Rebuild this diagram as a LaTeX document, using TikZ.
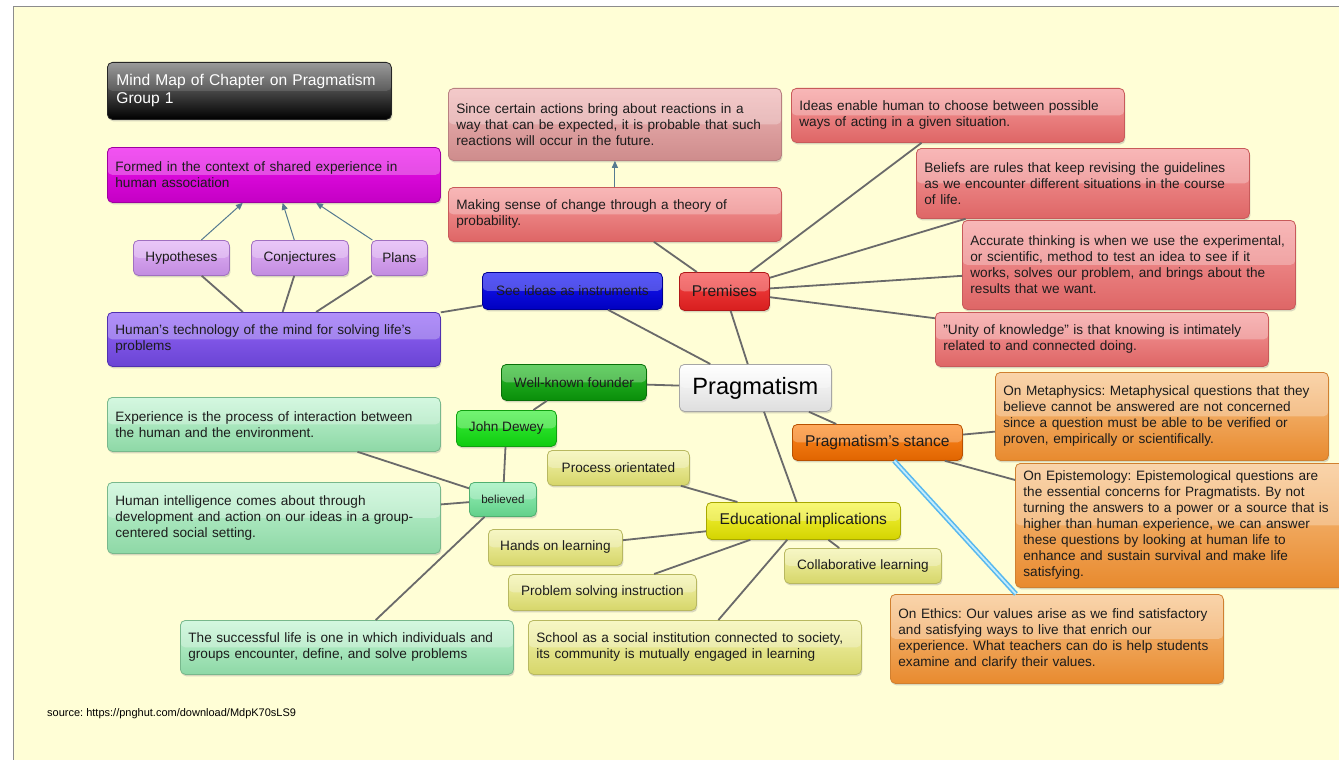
\documentclass[tikz,border=0pt]{standalone}
\usepackage{fontspec}
\setmainfont{Liberation Sans}
\usepackage{tikz}
\usetikzlibrary{positioning, arrows.meta, shadows}
\frenchspacing

% colours of the map
\definecolor{paper}{HTML}{FFFED6}
\definecolor{framegray}{HTML}{8C8C8C}
\definecolor{ink}{HTML}{1C1C1C}
\definecolor{linkgray}{HTML}{6A6A6A}
\definecolor{arrowblue}{HTML}{557A90}
\definecolor{glowout}{HTML}{58B8EE}
\definecolor{glowin}{HTML}{C4ECFC}

\newcommand{\mmtext}{\fontsize{13.6}{16}\selectfont}
\newcommand{\mmbig}{\fontsize{15.6}{18}\selectfont}
\newcommand{\mmhuge}{\fontsize{23.6}{28}\selectfont}
\newcommand{\mmsmall}{\fontsize{11.6}{14}\selectfont}
\newcommand{\mmsource}{\fontsize{11}{13}\selectfont}

\begin{document}
\begin{tikzpicture}[
    x=1pt, y=-1pt,
    box/.style={rounded corners=5pt, line width=0.8pt, text=ink, font=\mmtext,
        drop shadow={shadow xshift=1pt, shadow yshift=-2pt, opacity=0.3},
        path picture={\fill[white, opacity=0.28] (path picture bounding box.north west) rectangle (path picture bounding box.east);}},
    note/.style={box, anchor=north west, minimum width=333pt, minimum height=#1,
        text width=317pt, inner xsep=8pt, inner ysep=2pt, align=left},
    tag/.style 2 args={box, anchor=north west, minimum width=#1, minimum height=#2, inner sep=2pt},
    blackbox/.style={top color=black!45, bottom color=black, draw=black!85, text=white,
        path picture={\fill[white, opacity=0.12] (path picture bounding box.north west) rectangle (path picture bounding box.east);}},
    magentabox/.style={top color={rgb,255:red,238;green,16;blue,238}, bottom color={rgb,255:red,196;green,0;blue,196}, draw={rgb,255:red,160;green,0;blue,160}},
    lilacbox/.style={top color={rgb,255:red,226;green,178;blue,246}, bottom color={rgb,255:red,194;green,140;blue,224}, draw={rgb,255:red,160;green,112;blue,192}},
    purplebox/.style={top color={rgb,255:red,148;green,102;blue,248}, bottom color={rgb,255:red,106;green,68;blue,212}, draw={rgb,255:red,80;green,48;blue,176}},
    bluebox/.style={top color={rgb,255:red,24;green,24;blue,248}, bottom color={rgb,255:red,0;green,0;blue,192}, draw={rgb,255:red,0;green,0;blue,144}},
    redbox/.style={top color={rgb,255:red,246;green,156;blue,156}, bottom color={rgb,255:red,222;green,102;blue,102}, draw={rgb,255:red,200;green,90;blue,90}},
    mutedbox/.style={top color={rgb,255:red,240;green,182;blue,182}, bottom color={rgb,255:red,206;green,140;blue,140}, draw={rgb,255:red,184;green,128;blue,128}},
    premisebox/.style={top color={rgb,255:red,246;green,72;blue,72}, bottom color={rgb,255:red,216;green,30;blue,30}, draw={rgb,255:red,176;green,24;blue,24}},
    whitebox/.style={top color=white, bottom color=black!13, draw=black!35},
    darkgreenbox/.style={top color={rgb,255:red,46;green,190;blue,46}, bottom color={rgb,255:red,10;green,142;blue,10}, draw={rgb,255:red,8;green,112;blue,8}},
    greenbox/.style={top color={rgb,255:red,60;green,240;blue,60}, bottom color={rgb,255:red,16;green,204;blue,16}, draw={rgb,255:red,16;green,160;blue,16}},
    mintbox/.style={top color={rgb,255:red,152;green,240;blue,184}, bottom color={rgb,255:red,98;green,208;blue,138}, draw={rgb,255:red,80;green,176;blue,112}},
    palegreenbox/.style={top color={rgb,255:red,196;green,245;blue,212}, bottom color={rgb,255:red,142;green,216;blue,166}, draw={rgb,255:red,120;green,184;blue,140}},
    paleyellowbox/.style={top color={rgb,255:red,244;green,244;blue,174}, bottom color={rgb,255:red,214;green,214;blue,106}, draw={rgb,255:red,184;green,184;blue,96}},
    yellowbox/.style={top color={rgb,255:red,246;green,246;blue,64}, bottom color={rgb,255:red,212;green,212;blue,0}, draw={rgb,255:red,168;green,168;blue,0}},
    orangebox/.style={top color={rgb,255:red,255;green,138;blue,32}, bottom color={rgb,255:red,224;green,100;blue,0}, draw={rgb,255:red,184;green,80;blue,0}},
    peachbox/.style={top color={rgb,255:red,248;green,196;blue,138}, bottom color={rgb,255:red,232;green,138;blue,46}, draw={rgb,255:red,208;green,128;blue,48}},
    link/.style={draw=linkgray, line width=1.8pt},
    leadsto/.style={draw=arrowblue, line width=1pt, -{Triangle[length=7pt, width=6pt]}},
    glow/.style={draw=glowin, line width=1.8pt, preaction={draw=glowout, line width=5pt}}
]
    % Slide
    \useasboundingbox (0,0) rectangle (1339,760);
    \clip (0,0) rectangle (1339,760);
    \fill[white] (0,0) rectangle (1339,760);
    \fill[paper] (13,7) rectangle (1339,760);
    \draw[framegray, line width=1pt] (13,760) -- (13,7) -- (1339,7);

    % Title
    \node[box, blackbox, anchor=north west, minimum width=284pt, minimum height=57pt,
        text width=266pt, inner xsep=9pt, align=left, font=\mmbig] (title) at (107,62)
        {Mind Map of Chapter on Pragmatism\\Group 1};

    % Centre
    \node[tag={152pt}{47pt}, whitebox, font=\mmhuge, text=black] (pragmatism) at (679,364) {Pragmatism};

    % Ideas as instruments
    \node[tag={180pt}{37pt}, bluebox] (instruments) at (482,272) {See ideas as instruments};
    \node[note=54pt, purplebox] (technology) at (107,312)
        {Human's technology of the mind for solving life's\\problems};
    \node[tag={96pt}{35pt}, lilacbox] (hypotheses) at (133,240) {Hypotheses};
    \node[tag={97pt}{35pt}, lilacbox] (conjectures) at (251,240) {Conjectures};
    \node[tag={56pt}{35pt}, lilacbox] (plans) at (371,240) {Plans};
    \node[note=55pt, magentabox] (formed) at (107,147)
        {Formed in the context of shared experience in\\human association};

    % Premises
    \node[tag={90pt}{38pt}, premisebox, font=\mmbig] (premises) at (679,272) {Premises};
    \node[note=54pt, redbox] (probability) at (448,187)
        {Making sense of change through a theory of\\probability.};
    \node[note=72pt, mutedbox] (reactions) at (448,88)
        {Since certain actions bring about reactions in a\\way that can be expected, it is probable that such\\reactions will occur in the future.};
    \node[note=54pt, redbox] (ideas) at (791,88)
        {Ideas enable human to choose between possible\\ways of acting in a given situation.};
    \node[note=70pt, redbox] (beliefs) at (916,148)
        {Beliefs are rules that keep revising the guidelines\\as we encounter different situations in the course\\of life.};
    \node[note=89pt, redbox] (accurate) at (962,220)
        {Accurate thinking is when we use the experimental,\\or scientific, method to test an idea to see if it\\works, solves our problem, and brings about the\\results that we want.};
    \node[note=54pt, redbox] (unity) at (935,312)
        {"Unity of knowledge" is that knowing is intimately\\related to and connected doing.};

    % Founder
    \node[tag={145pt}{36pt}, darkgreenbox] (founder) at (501,364) {Well-known founder};
    \node[tag={100pt}{36pt}, greenbox] (dewey) at (456,410) {John Dewey};
    \node[tag={67pt}{34pt}, mintbox, font=\mmsmall] (believed) at (469,482) {believed};
    \node[note=54pt, palegreenbox] (experience) at (107,397)
        {Experience is the process of interaction between\\the human and the environment.};
    \node[note=71pt, palegreenbox] (intelligence) at (107,482)
        {Human intelligence comes about through\\development and action on our ideas in a group-\\centered social setting.};
    \node[note=54pt, palegreenbox] (successful) at (180,620)
        {The successful life is one in which individuals and\\groups encounter, define, and solve problems};

    % Education
    \node[tag={194pt}{37pt}, yellowbox, font=\mmbig] (education) at (706,502) {Educational implications};
    \node[tag={142pt}{35pt}, paleyellowbox] (process) at (547,450) {Process orientated};
    \node[tag={134pt}{36pt}, paleyellowbox] (handson) at (488,529) {Hands on learning};
    \node[tag={188pt}{36pt}, paleyellowbox] (problem) at (508,574) {Problem solving instruction};
    \node[tag={157pt}{35pt}, paleyellowbox] (collab) at (784,548) {Collaborative learning};
    \node[note=54pt, paleyellowbox] (school) at (528,620)
        {School as a social institution connected to society,\\its community is mutually engaged in learning};

    % Stance
    \node[tag={170pt}{36pt}, orangebox, font=\mmbig] (stance) at (792,424) {Pragmatism's stance};
    \node[note=88pt, peachbox] (metaphysics) at (995,372)
        {On Metaphysics: Metaphysical questions that they\\believe cannot be answered are not concerned\\since a question must be able to be verified or\\proven, empirically or scientifically.};
    \node[note=124pt, peachbox] (epistemology) at (1015,463)
        {On Epistemology: Epistemological questions are\\the essential concerns for Pragmatists. By not\\turning the answers to a power or a source that is\\higher than human experience, we can answer\\these questions by looking at human life to\\enhance and sustain survival and make life\\satisfying.};
    \node[note=89pt, peachbox] (ethics) at (890,594)
        {On Ethics: Our values arise as we find satisfactory\\and satisfying ways to live that enrich our\\experience. What teachers can do is help students\\examine and clarify their values.};

    % Source
    \node[anchor=west, inner sep=0pt, font=\mmsource, text=black] (source) at (47,714)
        {source: https://pnghut.com/download/MdpK70sLS9};

    % Links
    \draw[link] (pragmatism) -- (instruments);
    \draw[link] (pragmatism) -- (premises);
    \draw[link] (pragmatism) -- (founder);
    \draw[link] (pragmatism) -- (stance);
    \draw[link] (pragmatism) -- (education);
    \draw[link] (instruments) -- (technology);
    \draw[link] (technology) -- (hypotheses);
    \draw[link] (technology) -- (conjectures);
    \draw[link] (technology) -- (plans);
    \draw[link] (premises) -- (probability);
    \draw[link] (premises) -- (ideas);
    \draw[link] (premises) -- (beliefs);
    \draw[link] (premises) -- (accurate);
    \draw[link] (premises) -- (unity);
    \draw[link] (founder) -- (dewey);
    \draw[link] (dewey) -- (believed);
    \draw[link] (believed) -- (experience);
    \draw[link] (believed) -- (intelligence);
    \draw[link] (believed) -- (successful);
    \draw[link] (education) -- (process);
    \draw[link] (education) -- (handson);
    \draw[link] (education) -- (problem);
    \draw[link] (education) -- (collab);
    \draw[link] (education) -- (school);
    \draw[link] (stance) -- (metaphysics);
    \draw[link] (stance) -- (epistemology);
    \draw[glow] (stance) -- (ethics);

    % Arrows
    \draw[leadsto] (hypotheses) -- (formed);
    \draw[leadsto] (conjectures) -- (formed);
    \draw[leadsto] (plans) -- (formed);
    \draw[leadsto] (probability) -- (reactions);
\end{tikzpicture}
\end{document}
